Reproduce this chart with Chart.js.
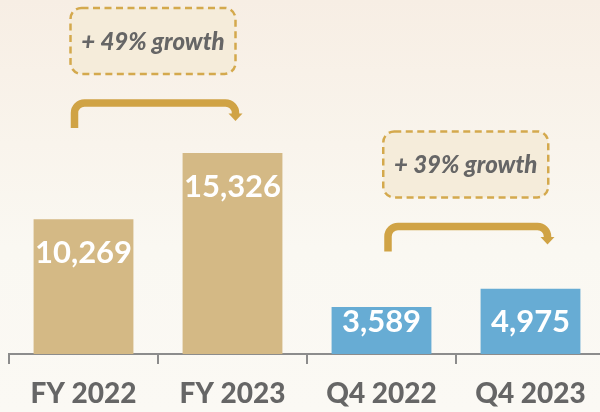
<!DOCTYPE html>
<html>
<head>
<meta charset="utf-8">
<script src="https://cdn.jsdelivr.net/npm/chart.js@4.4.1/dist/chart.umd.min.js"></script>
<style>
  html, body { margin: 0; padding: 0; }
  body {
    width: 600px; height: 412px; overflow: hidden;
    background: linear-gradient(to bottom, #f7eee4 0%, #f9f4ec 35%, #faf8f2 60%, #fbf9f4 100%);
  }
  #wrap { position: relative; width: 606px; height: 412px; }
</style>
</head>
<body>
<div id="wrap"><canvas id="c"></canvas></div>
<script>
// ---- data ----
const categories = ['FY 2022', 'FY 2023', 'Q4 2022', 'Q4 2023'];
const revenue = [10269, 15326, 3589, 4975];
const barColors = ['#d4b985', '#d4b985', '#67acd4', '#67acd4'];
const growthLabels = ['+ 49% growth', '+ 39% growth'];
const growthPairs = [[0, 1], [2, 3]];

// ---- annotation layout (styling, not data) ----
const arrowLayout = [
  { startDx: -9, endDx: 3, level: 19150 },
  { startDx: 6.5, endDx: 17, level: 9730 }
];

const FONT = 'Lato, "Open Sans", "DejaVu Sans", sans-serif';

const labelPlugin = {
  id: 'valueLabels',
  afterDatasetsDraw(chart) {
    const ctx = chart.ctx;
    const meta = chart.getDatasetMeta(0);
    const base = chart.chartArea.bottom;
    ctx.save();
    ctx.fillStyle = '#ffffff';
    ctx.font = 'bold 31px ' + FONT;
    ctx.textAlign = 'center';
    ctx.textBaseline = 'middle';
    meta.data.forEach((bar, i) => {
      const y = Math.min(bar.y + 34, base - 32);
      ctx.fillText(revenue[i].toLocaleString('en-US'), bar.x, y);
    });
    ctx.restore();
  }
};

function roundRect(ctx, x, y, w, h, r) {
  ctx.beginPath();
  ctx.moveTo(x + r, y);
  ctx.lineTo(x + w - r, y);
  ctx.arcTo(x + w, y, x + w, y + r, r);
  ctx.lineTo(x + w, y + h - r);
  ctx.arcTo(x + w, y + h, x + w - r, y + h, r);
  ctx.lineTo(x + r, y + h);
  ctx.arcTo(x, y + h, x, y + h - r, r);
  ctx.lineTo(x, y + r);
  ctx.arcTo(x, y, x + r, y, r);
  ctx.closePath();
}

const growthPlugin = {
  id: 'growthArrows',
  afterDraw(chart) {
    const ctx = chart.ctx;
    const xs = chart.scales.x, ys = chart.scales.y;
    growthPairs.forEach((pair, k) => {
      const lay = arrowLayout[k];
      const x0 = xs.getPixelForValue(pair[0]) + lay.startDx;
      const x1 = xs.getPixelForValue(pair[1]) + lay.endDx;
      const yH = ys.getPixelForValue(lay.level);
      const r = 10;
      ctx.save();
      // arrow line
      ctx.strokeStyle = '#d0a345';
      ctx.fillStyle = '#d0a345';
      ctx.lineWidth = 7.5;
      ctx.lineCap = 'butt';
      ctx.lineJoin = 'round';
      ctx.beginPath();
      ctx.moveTo(x0, yH + 25);
      ctx.lineTo(x0, yH + r);
      ctx.arcTo(x0, yH, x0 + r, yH, r);
      ctx.lineTo(x1 - r, yH);
      ctx.arcTo(x1, yH, x1, yH + r, r);
      ctx.lineTo(x1, yH + 11);
      ctx.stroke();
      // arrow head
      ctx.beginPath();
      ctx.moveTo(x1 - 7, yH + 10.5);
      ctx.lineTo(x1 + 7, yH + 10.5);
      ctx.lineTo(x1, yH + 18);
      ctx.closePath();
      ctx.fill();
      // box
      const w = 165, h = 66;
      const cx = (x0 + x1) / 2 - 2;
      const bx = cx - w / 2, by = yH - 29 - h;
      roundRect(ctx, bx, by, w, h, 11);
      ctx.fillStyle = '#f5ecda';
      ctx.fill();
      ctx.setLineDash([7, 4.5]);
      ctx.lineWidth = 2.5;
      ctx.strokeStyle = '#d4a94d';
      ctx.stroke();
      ctx.setLineDash([]);
      // text
      ctx.fillStyle = '#666666';
      ctx.font = 'italic 900 24px ' + FONT;
      ctx.textAlign = 'center';
      ctx.textBaseline = 'middle';
      ctx.fillText(growthLabels[k], cx, by + h / 2 + 1);
      ctx.restore();
    });
  }
};

new Chart(document.getElementById('c'), {
  type: 'bar',
  data: {
    labels: categories,
    datasets: [{
      data: revenue,
      backgroundColor: barColors,
      borderWidth: 0,
      barPercentage: 0.67,
      categoryPercentage: 1.0
    }]
  },
  options: {
    responsive: true,
    maintainAspectRatio: false,
    animation: false,
    layout: { padding: { left: 9, right: 1, top: 0, bottom: 0 } },
    plugins: { legend: { display: false }, tooltip: { enabled: false } },
    scales: {
      y: { display: false, min: 0, max: 27000 },
      x: {
        afterFit(scale) { scale.height = 58; },
        border: { display: true, color: '#8c8c8c', width: 2 },
        grid: {
          display: true, drawOnChartArea: false, drawTicks: true,
          tickLength: 10, color: '#8c8c8c', lineWidth: 2, offset: true
        },
        ticks: {
          color: '#666666',
          padding: 13,
          font: { family: FONT, size: 28, weight: 900 }
        }
      }
    }
  },
  plugins: [labelPlugin, growthPlugin]
});
</script>
</body>
</html>
